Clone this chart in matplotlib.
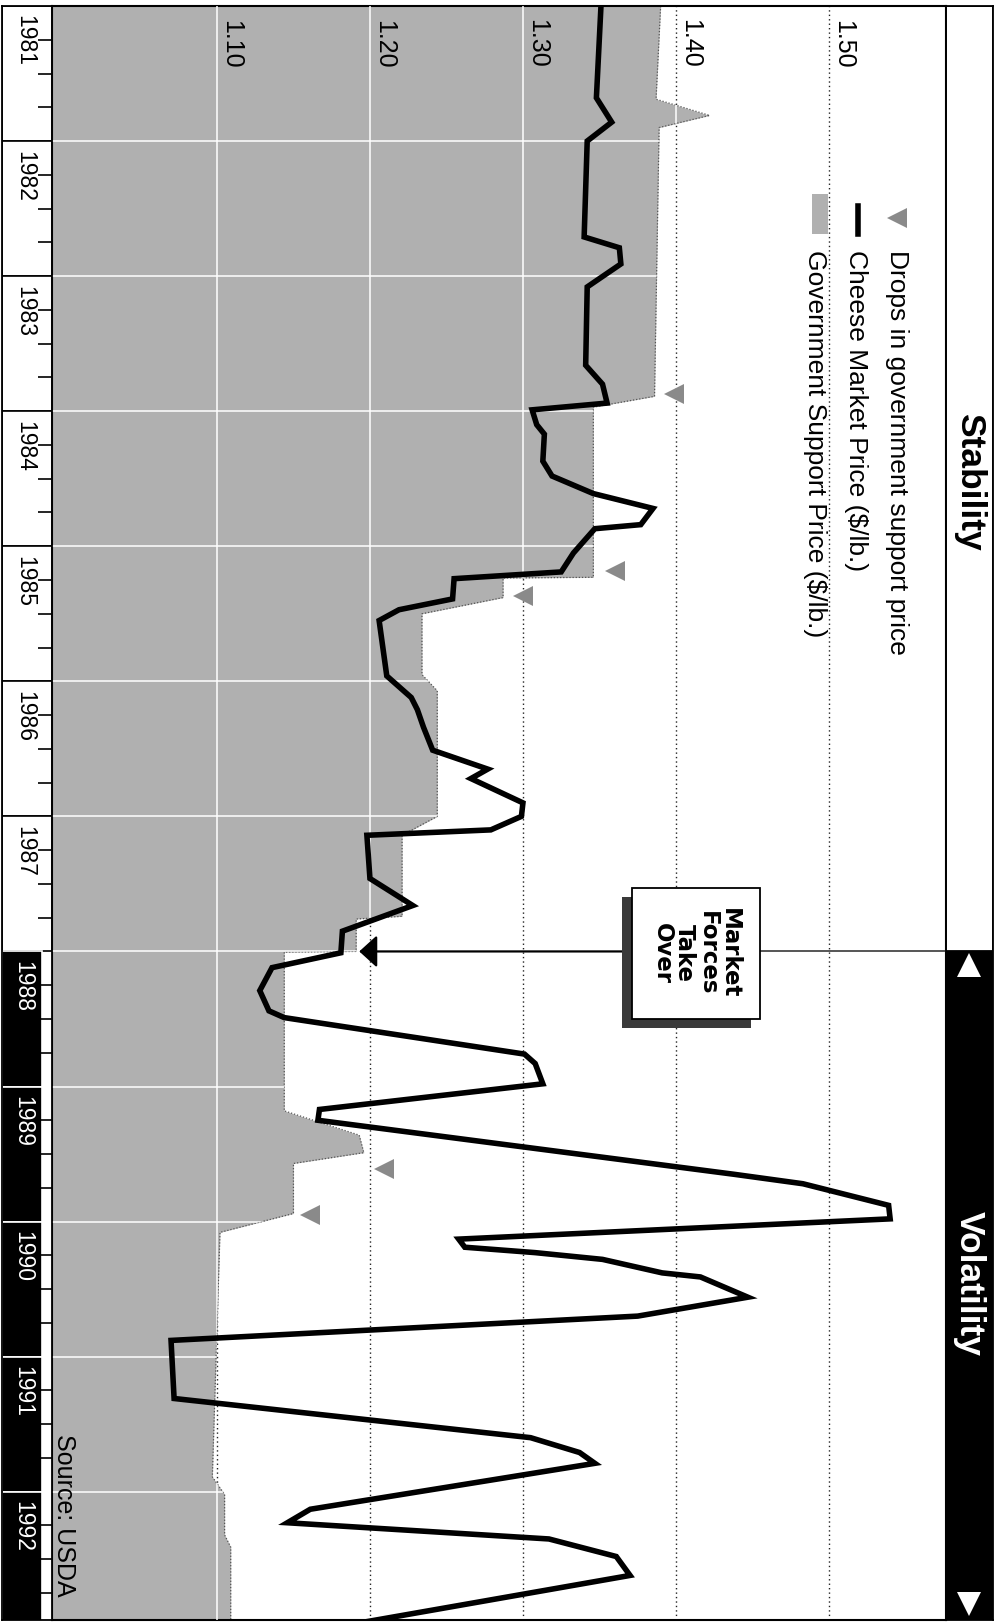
import matplotlib
matplotlib.use('Agg')
from matplotlib import pyplot as plt
from matplotlib.patches import Rectangle

# Cheese market price vs. government support price, 1981-1992
# (chart is drawn turned on its side: time runs down, price runs right)

market_t = [1981.00, 1981.68, 1981.86, 1982.00, 1982.71, 1982.79, 1982.91, 1983.08,
            1983.66, 1983.80, 1983.94, 1983.99, 1984.10, 1984.17, 1984.37, 1984.48,
            1984.61, 1984.72, 1984.84, 1984.87, 1985.05, 1985.19, 1985.24, 1985.39,
            1985.47, 1985.55, 1985.96, 1986.12, 1986.21, 1986.34, 1986.51, 1986.65,
            1986.72, 1986.90, 1987.00, 1987.10, 1987.14, 1987.46, 1987.66, 1987.85,
            1988.01, 1988.12, 1988.29, 1988.44, 1988.49, 1988.76, 1988.83, 1988.98,
            1989.17, 1989.25, 1989.65, 1989.72, 1989.88, 1989.98, 1990.13, 1990.19,
            1990.23, 1990.28, 1990.38, 1990.41, 1990.56, 1990.70, 1990.88, 1991.31,
            1991.60, 1991.71, 1991.79, 1992.13, 1992.23, 1992.35, 1992.48, 1992.62,
            1992.96]
market_price = [1.351, 1.348, 1.358, 1.342, 1.340, 1.363, 1.364, 1.342,
                1.341, 1.352, 1.355, 1.306, 1.309, 1.314, 1.313, 1.319,
                1.346, 1.385, 1.377, 1.347, 1.333, 1.325, 1.255, 1.254,
                1.219, 1.206, 1.211, 1.227, 1.231, 1.235, 1.241, 1.277,
                1.266, 1.300, 1.299, 1.279, 1.198, 1.200, 1.228, 1.182,
                1.181, 1.136, 1.128, 1.134, 1.144, 1.301, 1.308, 1.313,
                1.167, 1.166, 1.438, 1.483, 1.539, 1.540, 1.258, 1.262,
                1.308, 1.352, 1.391, 1.416, 1.447, 1.375, 1.070, 1.072,
                1.305, 1.337, 1.347, 1.161, 1.146, 1.317, 1.361, 1.370,
                1.199]

support_t = [1981.00, 1981.69, 1981.81, 1981.90, 1983.89, 1983.97, 1985.23, 1985.235,
             1985.38, 1985.50, 1985.95, 1986.07, 1987.00, 1987.14, 1987.74, 1987.76,
             1988.00, 1988.005, 1989.18, 1989.36, 1989.49, 1989.57, 1989.94, 1990.08,
             1991.89, 1992.02, 1992.32, 1992.41, 1992.97]
support_price = [1.390, 1.387, 1.422, 1.389, 1.386, 1.346, 1.346, 1.287,
                 1.287, 1.234, 1.234, 1.244, 1.244, 1.221, 1.221, 1.191,
                 1.191, 1.144, 1.144, 1.193, 1.196, 1.150, 1.150, 1.102,
                 1.097, 1.105, 1.105, 1.109, 1.109]

drops_t = [1983.87, 1985.18, 1985.37, 1989.61, 1989.95]
drops_price = [1.399, 1.360, 1.300, 1.209, 1.161]

price_ticks = [1.10, 1.20, 1.30, 1.40, 1.50]
price_labels = ['1.10', '1.20', '1.30', '1.40', '1.50']
years = list(range(1981, 1993))

W, H = 1003, 1623
T0, T1 = 1981.0, 1992.95
P0, P1 = 0.9922, 1.5765
FONT = 'Liberation Sans'
FILL = '#b0b0b0'

fig = plt.figure(figsize=(W / 100, H / 100), dpi=100)
bot = (H - 1620) / H
hgt = (1620 - 6) / H
ax = fig.add_axes([52 / W, bot, (946 - 52) / W, hgt])
axy = fig.add_axes([2 / W, bot, 50 / W, hgt])
axb = fig.add_axes([946 / W, bot, 47 / W, hgt])
for a in (ax, axy, axb):
    a.set_ylim(T1, T0)
ax.set_xlim(P0, P1)

# dotted price grid (shows on white part)
for p in price_ticks:
    ax.axvline(p, color='#222222', lw=1.0, ls=(0, (1, 2.2)), zorder=1)

# support price area, grid shows through it as white lines
fill = ax.fill_betweenx(support_t, P0, support_price, color=FILL, lw=0, zorder=2)
ax.plot(support_price, support_t, color='#555555', lw=0.9, ls=(0, (1, 1.5)), zorder=2)
clip = fill.get_paths()[0]
for p in price_ticks:
    ln = ax.axvline(p, color='white', lw=1.1, zorder=3)
    ln.set_clip_path(clip, ax.transData)
for y in years[1:]:
    ln = ax.axhline(y, color='white', lw=1.1, zorder=3)
    ln.set_clip_path(clip, ax.transData)

for p, lab in zip(price_ticks, price_labels):
    ax.text(p + 0.009, 1981.28, lab, rotation=-90, ha='center', va='center',
            fontsize=18, family=FONT, zorder=6)

# market price
ax.plot(market_price, market_t, color='black', lw=4, solid_joinstyle='miter', zorder=5)

# drops in support
ax.plot(drops_price, drops_t, ls='none', marker='<', ms=14, color='#8a8a8a',
        markeredgewidth=0, zorder=5)

# Market Forces Take Over
ax.plot([1.455, P1], [1988.0, 1988.0], color='#555555', lw=1.4, zorder=4)
ax.annotate('', xy=(1.193, 1988.0), xytext=(1.371, 1988.0),
            arrowprops=dict(arrowstyle='-|>,head_length=0.55,head_width=0.5',
                            mutation_scale=20, color='black', lw=1.6, shrinkA=0, shrinkB=0),
            zorder=6)
ax.add_patch(Rectangle((1.365, 1987.60), 0.084, 0.97, facecolor='#3a3a3a', lw=0, zorder=6))
ax.add_patch(Rectangle((1.371, 1987.53), 0.084, 0.97, facecolor='white', edgecolor='black',
                       lw=1.3, zorder=7))
ax.text(1.413, 1988.015, 'Market\nForces\nTake\nOver', rotation=-90, ha='center', va='center',
        multialignment='center', fontsize=16.5, fontweight='bold', family='DejaVu Sans',
        linespacing=0.95, zorder=8)

# legend
ax.plot([1.5444], [1982.57], ls='none', marker='<', ms=14, color='#8a8a8a',
        markeredgewidth=0, zorder=5)
ax.plot([1.519, 1.519], [1982.48, 1982.69], color='black', lw=4, zorder=5)
ax.add_patch(Rectangle((1.489, 1982.39), 0.0105, 0.30, facecolor=FILL, lw=0, zorder=5))
legend_x = [1.5444, 1.518, 1.491]
legend_text = ['Drops in government support price', 'Cheese Market Price ($/lb.)',
               'Government Support Price ($/lb.)']
for x, s in zip(legend_x, legend_text):
    ax.text(x, 1982.81, s, rotation=-90, ha='center', va='top', fontsize=19,
            family=FONT, zorder=6)

ax.text(1.0, 1991.57, 'Source: USDA', rotation=-90, ha='center', va='top',
        fontsize=18, family=FONT, zorder=6)

ax.set_xticks([])
ax.set_yticks([])
for s in ax.spines.values():
    s.set_linewidth(1.5)

# year column
axy.set_xlim(0, 1)
for y in years:
    if y < 1988:
        axy.add_patch(Rectangle((0, y), 1, 1, facecolor='white', edgecolor='black', lw=1.2))
        axy.text(0.45, y + 0.07, str(y), rotation=-90, ha='center', va='top',
                 fontsize=16.5, family=FONT, color='black')
    else:
        axy.add_patch(Rectangle((0, y), 0.8, 1, facecolor='black', edgecolor='white', lw=1.2))
        axy.text(0.42, y + 0.07, str(y), rotation=-90, ha='center', va='top',
                 fontsize=16.5, family=FONT, color='white')
quarters = [y + q for y in years for q in (0.25, 0.5, 0.75)]
axy.set_xticks([])
axy.set_yticks(quarters)
axy.yaxis.tick_right()
axy.tick_params(axis='y', direction='in', length=10, width=1.2, labelright=False)
for s in axy.spines.values():
    s.set_linewidth(1.3)

# stability / volatility band
axb.set_xlim(0, 1)
axb.add_patch(Rectangle((0, T0), 1, 1988.0 - T0, facecolor='white', edgecolor='black', lw=1.3))
axb.add_patch(Rectangle((0, 1988.0), 1, T1 - 1988.0, facecolor='black', lw=0))
axb.text(0.5, 1984.52, 'Stability', rotation=-90, ha='center', va='center', fontsize=25.5,
         fontweight='bold', family=FONT)
axb.text(0.5, 1990.46, 'Volatility', rotation=-90, ha='center', va='center', fontsize=25.5,
         fontweight='bold', family=FONT, color='white')
axb.plot([0.5], [1988.1], marker='^', ms=17, color='white', markeredgewidth=0)
axb.plot([0.5], [1992.83], marker='v', ms=17, color='white', markeredgewidth=0)
axb.set_xticks([])
axb.set_yticks([])
for s in axb.spines.values():
    s.set_linewidth(1.3)

plt.savefig('out.png', dpi=100)
